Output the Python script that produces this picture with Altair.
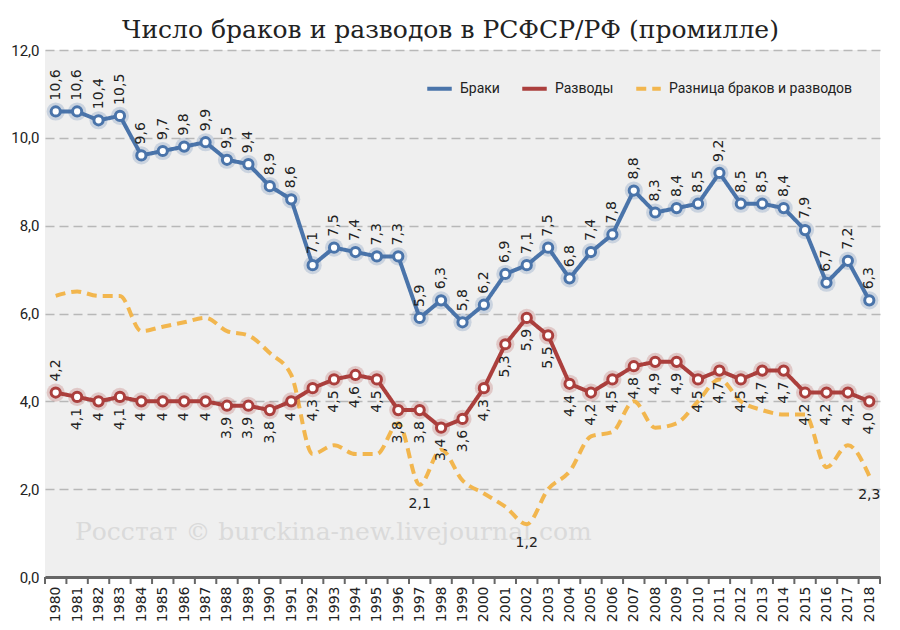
import altair as alt
import pandas as pd

years = list(range(1980, 2019))
marriages = [10.6, 10.6, 10.4, 10.5, 9.6, 9.7, 9.8, 9.9, 9.5, 9.4, 8.9, 8.6, 7.1, 7.5, 7.4,
             7.3, 7.3, 5.9, 6.3, 5.8, 6.2, 6.9, 7.1, 7.5, 6.8, 7.4, 7.8, 8.8, 8.3, 8.4,
             8.5, 9.2, 8.5, 8.5, 8.4, 7.9, 6.7, 7.2, 6.3]
divorces = [4.2, 4.1, 4.0, 4.1, 4.0, 4.0, 4.0, 4.0, 3.9, 3.9, 3.8, 4.0, 4.3, 4.5, 4.6,
            4.5, 3.8, 3.8, 3.4, 3.6, 4.3, 5.3, 5.9, 5.5, 4.4, 4.2, 4.5, 4.8, 4.9, 4.9,
            4.5, 4.7, 4.5, 4.7, 4.7, 4.2, 4.2, 4.2, 4.0]
difference = [6.4, 6.5, 6.4, 6.4, 5.6, 5.7, 5.8, 5.9, 5.6, 5.5, 5.1, 4.6, 2.8, 3.0, 2.8,
              2.8, 3.5, 2.1, 2.9, 2.2, 1.9, 1.6, 1.2, 2.0, 2.4, 3.2, 3.3, 4.0, 3.4, 3.5,
              4.0, 4.5, 4.0, 3.8, 3.7, 3.7, 2.5, 3.0, 2.3]
marriage_labels = ["10,6", "10,6", "10,4", "10,5", "9,6", "9,7", "9,8", "9,9", "9,5", "9,4",
                   "8,9", "8,6", "7,1", "7,5", "7,4", "7,3", "7,3", "5,9", "6,3", "5,8",
                   "6,2", "6,9", "7,1", "7,5", "6,8", "7,4", "7,8", "8,8", "8,3", "8,4",
                   "8,5", "9,2", "8,5", "8,5", "8,4", "7,9", "6,7", "7,2", "6,3"]
divorce_labels = ["4,2", "4,1", "4", "4,1", "4", "4", "4", "4", "3,9", "3,9",
                  "3,8", "4", "4,3", "4,5", "4,6", "4,5", "3,8", "3,8", "3,4", "3,6",
                  "4,3", "5,3", "5,9", "5,5", "4,4", "4,2", "4,5", "4,8", "4,9", "4,9",
                  "4,5", "4,7", "4,5", "4,7", "4,7", "4,2", "4,2", "4,2", "4,0"]
divorce_labels_above = [1980]
difference_labels = {1997: "2,1", 2002: "1,2", 2018: "2,3"}

S1, S2, S3 = "Браки", "Разводы", "Разница браков и разводов"
series_names = [S1, S2, S3]
series_colors = ["#4a74aa", "#ab3f3d", "#f2b64e"]

rows = []
for i, yr in enumerate(years):
    rows.append({"year": yr, "series": S1, "value": marriages[i], "label": marriage_labels[i], "pos": "above"})
    rows.append({"year": yr, "series": S2, "value": divorces[i], "label": divorce_labels[i],
                 "pos": "above" if yr in divorce_labels_above else "below"})
    rows.append({"year": yr, "series": S3, "value": difference[i],
                 "label": difference_labels.get(yr, ""), "pos": "below"})
df = pd.DataFrame(rows)

ticks_df = pd.DataFrame({"year": [y - 0.5 for y in years] + [years[-1] + 0.5]})
mark_df = pd.DataFrame({"t": ["Росстат © burckina-new.livejournal.com"]})

W, H = 835, 527
SANS = "Roboto"

x_axis = alt.Axis(values=years, format="d", labelAngle=270, labelAlign="right",
                  labelBaseline="middle", labelFont="DejaVu Sans", labelFontSize=14,
                  labelColor="#222", labelPadding=9, ticks=False, grid=False,
                  domain=True, domainColor="#666", domainWidth=3, title=None,
                  labelOverlap=False, labelFlush=False)
x_scale = alt.Scale(domain=[years[0] - 0.5, years[-1] + 0.5], nice=False, zero=False)
x_enc = alt.X("year:Q", scale=x_scale, axis=x_axis)
y_enc = alt.Y("value:Q",
              scale=alt.Scale(domain=[0, 12], nice=False),
              axis=alt.Axis(values=[0, 2, 4, 6, 8, 10, 12],
                            labelExpr="replace(format(datum.value, '.1f'), '.', ',')",
                            labelFont=SANS, labelFontSize=15,
                            labelColor="#222", labelPadding=6, ticks=False, domain=False,
                            grid=True, gridDash=[9, 5], gridColor="#b8b8b8", gridWidth=1.3,
                            title=None))

legend = alt.Legend(title=None, orient="none", legendX=380, legendY=24,
                    direction="horizontal", symbolType="stroke",
                    symbolStrokeWidth=4, symbolSize=600,
                    labelFont=SANS, labelFontSize=14, labelLimit=400,
                    labelColor="#222", columnPadding=14, labelOffset=6)
color_enc = alt.Color("series:N", scale=alt.Scale(domain=series_names, range=series_colors),
                      legend=legend)
dash_enc = alt.StrokeDash("series:N",
                          scale=alt.Scale(domain=series_names, range=[[1, 0], [1, 0], [10, 6]]),
                          legend=legend)

base = alt.Chart(df)

watermark = alt.Chart(mark_df).mark_text(font="DejaVu Serif", fontSize=25, color="#dadada",
                                         align="left", baseline="middle").encode(
    x=alt.value(30), y=alt.value(482), text="t:N")

ticks = alt.Chart(ticks_df).mark_rule(color="#666", strokeWidth=2).encode(
    x=x_enc, y=alt.value(H), y2=alt.value(H + 7))

main_lines = base.transform_filter(alt.FieldOneOfPredicate(field="series", oneOf=[S1, S2])).mark_line(
    strokeWidth=4).encode(x=x_enc, y=y_enc, color=color_enc, strokeDash=dash_enc)

diff_line = base.transform_filter(alt.datum.series == S3).mark_line(
    strokeWidth=4, interpolate="monotone").encode(x=x_enc, y=y_enc, color=color_enc, strokeDash=dash_enc)

two = base.transform_filter(alt.FieldOneOfPredicate(field="series", oneOf=[S1, S2]))

glow = two.mark_circle(size=330, opacity=0.22).encode(
    x=x_enc, y=y_enc,
    fill=alt.Fill("series:N", scale=alt.Scale(domain=[S1, S2], range=series_colors[:2]), legend=None))

points = two.mark_point(shape="circle", filled=True, fill="white", size=85, strokeWidth=3,
                        opacity=1).encode(
    x=x_enc, y=y_enc,
    stroke=alt.Stroke("series:N", scale=alt.Scale(domain=[S1, S2], range=series_colors[:2]), legend=None))

label_style = dict(font="DejaVu Sans", fontSize=14, color="#222")

m_labels = base.transform_filter(alt.datum.series == S1).mark_text(
    angle=270, align="left", baseline="middle", yOffset=-11, **label_style).encode(
    x=x_enc, y=y_enc, text="label:N")

d_labels_below = base.transform_filter((alt.datum.series == S2) & (alt.datum.pos == "below")).mark_text(
    angle=270, align="right", baseline="middle", yOffset=11, **label_style).encode(
    x=x_enc, y=y_enc, text="label:N")

d_labels_above = base.transform_filter((alt.datum.series == S2) & (alt.datum.pos == "above")).mark_text(
    angle=270, align="left", baseline="middle", yOffset=-11, **label_style).encode(
    x=x_enc, y=y_enc, text="label:N")

diff_labels = base.transform_filter((alt.datum.series == S3) & (alt.datum.label != "")).mark_text(
    align="center", baseline="top", yOffset=12, **label_style).encode(
    x=x_enc, y=y_enc, text="label:N")

chart = alt.layer(
    watermark, ticks, diff_line, main_lines, glow, points,
    m_labels, d_labels_below, d_labels_above, diff_labels
).properties(
    width=W, height=H,
    autosize=alt.AutoSizeParams(type="none"),
    padding={"left": 37, "top": 42, "right": 12, "bottom": 45},
    title=alt.TitleParams("Число браков и разводов в РСФСР/РФ (промилле)", font="DejaVu Serif",
                          fontSize=25, fontWeight="normal", color="#222", anchor="middle",
                          offset=0, dx=-12),
    background="white",
).configure_view(fill="#efefef", stroke=None)

chart.save("out.html", embed_options={"renderer": "svg", "actions": False})
